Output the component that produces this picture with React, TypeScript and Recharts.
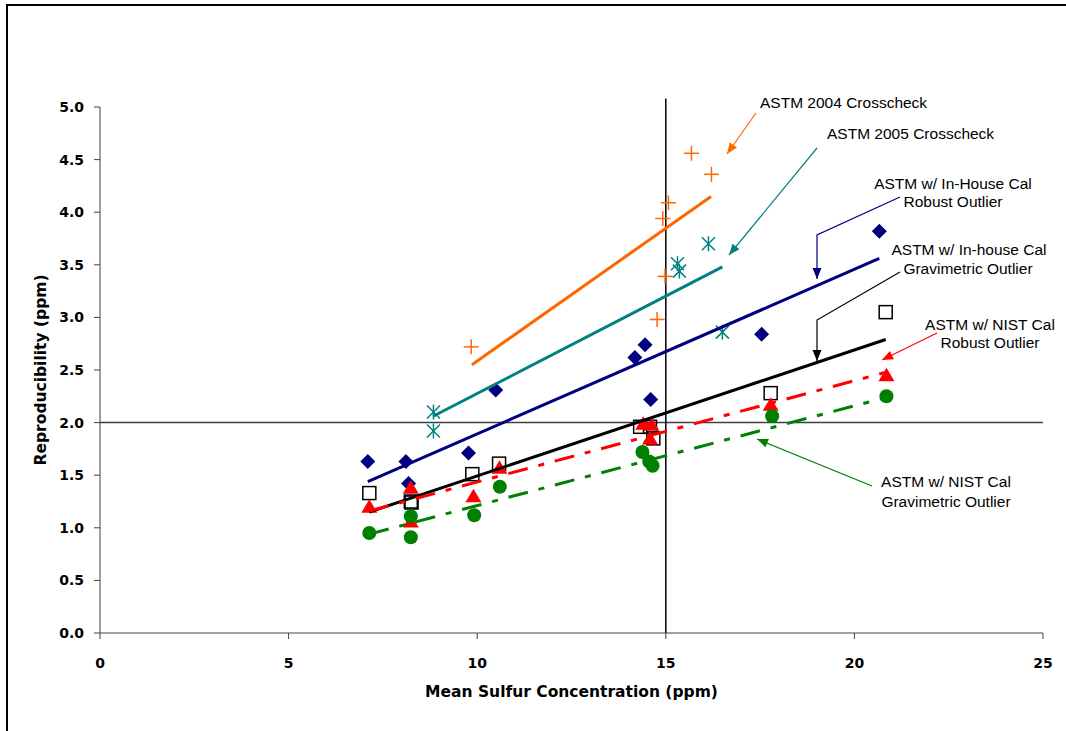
import { ComposedChart, Scatter, XAxis, YAxis, ReferenceLine } from 'recharts';

const astm2004 = [
  { x: 9.84, y: 2.72 }, { x: 14.77, y: 2.98 }, { x: 14.98, y: 3.39 }, { x: 14.92, y: 3.94 },
  { x: 15.07, y: 4.09 }, { x: 15.68, y: 4.56 }, { x: 16.21, y: 4.36 },
];
const astm2005 = [
  { x: 8.84, y: 2.1 }, { x: 8.84, y: 1.92 }, { x: 15.31, y: 3.51 }, { x: 15.36, y: 3.44 },
  { x: 16.13, y: 3.7 }, { x: 16.5, y: 2.86 },
];
const inHouseRobust = [
  { x: 7.1, y: 1.63 }, { x: 8.11, y: 1.63 }, { x: 8.18, y: 1.42 }, { x: 9.77, y: 1.71 },
  { x: 10.49, y: 2.31 }, { x: 14.18, y: 2.62 }, { x: 14.45, y: 2.74 }, { x: 14.6, y: 2.22 },
  { x: 17.54, y: 2.84 }, { x: 20.66, y: 3.82 },
];
const inHouseGrav = [
  { x: 7.14, y: 1.33 }, { x: 8.24, y: 1.25 }, { x: 8.26, y: 1.24 }, { x: 9.87, y: 1.51 },
  { x: 10.58, y: 1.61 }, { x: 14.32, y: 1.96 }, { x: 14.58, y: 1.96 }, { x: 14.67, y: 1.85 },
  { x: 17.78, y: 2.28 }, { x: 20.83, y: 3.05 },
];
const nistRobust = [
  { x: 7.14, y: 1.2 }, { x: 8.24, y: 1.38 }, { x: 8.24, y: 1.06 }, { x: 9.9, y: 1.3 },
  { x: 10.59, y: 1.57 }, { x: 14.4, y: 1.99 }, { x: 14.62, y: 1.98 }, { x: 14.58, y: 1.85 },
  { x: 17.78, y: 2.17 }, { x: 20.85, y: 2.45 },
];
const nistGrav = [
  { x: 7.14, y: 0.95 }, { x: 8.24, y: 1.11 }, { x: 8.24, y: 0.91 }, { x: 9.92, y: 1.12 },
  { x: 10.6, y: 1.39 }, { x: 14.38, y: 1.72 }, { x: 14.56, y: 1.63 }, { x: 14.65, y: 1.59 },
  { x: 17.82, y: 2.06 }, { x: 20.85, y: 2.25 },
];

// linear trend endpoints
const trend2004 = [{ x: 9.86, y: 2.55 }, { x: 16.2, y: 4.15 }];
const trend2005 = [{ x: 8.83, y: 2.06 }, { x: 16.5, y: 3.48 }];
const trendInHouseRobust = [{ x: 7.1, y: 1.44 }, { x: 20.66, y: 3.56 }];
const trendInHouseGrav = [{ x: 7.14, y: 1.15 }, { x: 20.83, y: 2.79 }];
const trendNistRobust = [{ x: 7.14, y: 1.16 }, { x: 20.85, y: 2.48 }];
const trendNistGrav = [{ x: 7.14, y: 0.94 }, { x: 20.85, y: 2.24 }];

const xTicks = [0, 5, 10, 15, 20, 25];
const yTicks = [0, 0.5, 1, 1.5, 2, 2.5, 3, 3.5, 4, 4.5, 5];

const ORANGE = '#ff6600';
const TEAL = '#008080';
const NAVY = '#000080';
const RED = '#ff0000';
const GREEN = '#008000';

const boldFont = '"DejaVu Sans", sans-serif';
const textFont = '"Liberation Sans", Arial, sans-serif';

const tickStyle = { fill: '#000', fontSize: 14, fontWeight: 700, fontFamily: boldFont };

const noDot = () => <g />;

const Diamond = ({ cx, cy }: any) => (
  <polygon points={`${cx},${cy - 7.5} ${cx + 7.5},${cy} ${cx},${cy + 7.5} ${cx - 7.5},${cy}`} fill={NAVY} />
);
const OpenSquare = ({ cx, cy }: any) => (
  <rect x={cx - 6.5} y={cy - 6.5} width={13} height={13} fill="none" stroke="#000" strokeWidth={1.5} />
);
const Triangle = ({ cx, cy }: any) => (
  <polygon points={`${cx},${cy - 7.5} ${cx + 8},${cy + 6} ${cx - 8},${cy + 6}`} fill={RED} />
);
const Dot = ({ cx, cy }: any) => <circle cx={cx} cy={cy} r={7} fill={GREEN} />;
const Plus = ({ cx, cy }: any) => (
  <g stroke={ORANGE} strokeWidth={1.5}>
    <line x1={cx - 7.5} y1={cy} x2={cx + 7.5} y2={cy} />
    <line x1={cx} y1={cy - 7.5} x2={cx} y2={cy + 7.5} />
  </g>
);
const Star = ({ cx, cy }: any) => (
  <g stroke={TEAL} strokeWidth={1.5}>
    <line x1={cx - 6.5} y1={cy - 6.5} x2={cx + 6.5} y2={cy + 6.5} />
    <line x1={cx - 6.5} y1={cy + 6.5} x2={cx + 6.5} y2={cy - 6.5} />
    <line x1={cx} y1={cy - 7.5} x2={cx} y2={cy + 7.5} />
  </g>
);

function Arrow({ pts, color }: { pts: number[][]; color: string }) {
  const [x2, y2] = pts[pts.length - 1];
  const [x1, y1] = pts[pts.length - 2];
  const a = Math.atan2(y2 - y1, x2 - x1);
  const len = 11;
  const w = 4.5;
  const bx = x2 - len * Math.cos(a);
  const by = y2 - len * Math.sin(a);
  const head = `${x2},${y2} ${bx + w * Math.sin(a)},${by - w * Math.cos(a)} ${bx - w * Math.sin(a)},${by + w * Math.cos(a)}`;
  return (
    <g>
      <polyline points={pts.map((p) => p.join(',')).join(' ')} fill="none" stroke={color} strokeWidth={1.2} />
      <polygon points={head} fill={color} />
    </g>
  );
}

function Notes() {
  const t = { fontFamily: textFont, fontSize: 15.5, fill: '#000' };
  return (
    <svg width={1066} height={731} style={{ position: 'absolute', left: 0, top: 0, pointerEvents: 'none' }}>
      <text x={760} y={107.5} {...t}>ASTM 2004 Crosscheck</text>
      <Arrow pts={[[756, 113], [727, 154]]} color={ORANGE} />
      <text x={827} y={138.5} {...t}>ASTM 2005 Crosscheck</text>
      <Arrow pts={[[817, 148], [729, 255]]} color={TEAL} />
      <text x={953} y={188.5} textAnchor="middle" {...t}>ASTM w/ In-House Cal</text>
      <text x={953} y={207} textAnchor="middle" {...t}>Robust Outlier</text>
      <Arrow pts={[[900, 197], [817, 235], [817, 279]]} color={NAVY} />
      <text x={969} y={254.5} textAnchor="middle" {...t}>ASTM w/ In-house Cal</text>
      <text x={968} y={273.5} textAnchor="middle" {...t}>Gravimetric Outlier</text>
      <Arrow pts={[[900, 272], [817, 320], [817, 361]]} color="#000" />
      <text x={990} y={330} textAnchor="middle" {...t}>ASTM w/ NIST Cal</text>
      <text x={990} y={348} textAnchor="middle" {...t}>Robust Outlier</text>
      <Arrow pts={[[937, 333], [882, 360]]} color={RED} />
      <text x={946} y={487} textAnchor="middle" {...t}>ASTM w/ NIST Cal</text>
      <text x={946} y={506.5} textAnchor="middle" {...t}>Gravimetric Outlier</text>
      <Arrow pts={[[872, 486], [757, 439]]} color={GREEN} />
    </svg>
  );
}

export default function App() {
  return (
    <div style={{ position: 'absolute', left: 0, top: 0, width: 1066, height: 731, background: '#fff', overflow: 'hidden' }}>
      <div style={{ position: 'absolute', left: 6, top: 4, width: 1060, height: 727, borderLeft: '2px solid #000', borderTop: '2px solid #000' }} />
      <div style={{ position: 'absolute', left: 0, top: 0 }}>
        <ComposedChart width={1066} height={731} margin={{ top: 107, right: 23, bottom: 34, left: 0 }}>
          <XAxis
            type="number"
            dataKey="x"
            domain={[0, 25]}
            ticks={xTicks}
            allowDataOverflow
            height={64}
            stroke="#404040"
            tickSize={6}
            tickMargin={19}
            tick={tickStyle}
            label={{ value: 'Mean Sulfur Concentration (ppm)', position: 'insideBottom', offset: 0, style: { fill: '#000', fontSize: 15.5, fontWeight: 700, fontFamily: boldFont } }}
          />
          <YAxis
            type="number"
            dataKey="y"
            domain={[0, 5]}
            ticks={yTicks}
            allowDataOverflow
            width={100}
            stroke="#404040"
            tickSize={6}
            tickMargin={10}
            tick={tickStyle}
            tickFormatter={(v: number) => v.toFixed(1)}
            label={{ value: 'Reproducibility (ppm)', angle: -90, position: 'insideLeft', offset: 40, style: { textAnchor: 'middle', fill: '#000', fontSize: 15.5, fontWeight: 700, fontFamily: boldFont } }}
          />
          <ReferenceLine y={2} stroke="#404040" strokeWidth={1.5} />
          <ReferenceLine segment={[{ x: 15, y: 0 }, { x: 15, y: 5.08 }]} ifOverflow="visible" stroke="#000" strokeWidth={1.5} />

          <Scatter data={inHouseRobust} shape={Diamond} isAnimationActive={false} />
          <Scatter data={inHouseGrav} shape={OpenSquare} isAnimationActive={false} />
          <Scatter data={nistRobust} shape={Triangle} isAnimationActive={false} />
          <Scatter data={nistGrav} shape={Dot} isAnimationActive={false} />
          <Scatter data={astm2004} shape={Plus} isAnimationActive={false} />
          <Scatter data={astm2005} shape={Star} isAnimationActive={false} />

          <Scatter data={trend2004} shape={noDot} line={{ stroke: ORANGE, strokeWidth: 3 }} isAnimationActive={false} />
          <Scatter data={trend2005} shape={noDot} line={{ stroke: TEAL, strokeWidth: 3 }} isAnimationActive={false} />
          <Scatter data={trendInHouseRobust} shape={noDot} line={{ stroke: NAVY, strokeWidth: 3 }} isAnimationActive={false} />
          <Scatter data={trendInHouseGrav} shape={noDot} line={{ stroke: '#000', strokeWidth: 3 }} isAnimationActive={false} />
          <Scatter data={trendNistRobust} shape={noDot} line={{ stroke: RED, strokeWidth: 3, strokeDasharray: '20 11 6 11' }} isAnimationActive={false} />
          <Scatter data={trendNistGrav} shape={noDot} line={{ stroke: GREEN, strokeWidth: 3, strokeDasharray: '20 11 6 11' }} isAnimationActive={false} />
        </ComposedChart>
      </div>
      <Notes />
    </div>
  );
}
